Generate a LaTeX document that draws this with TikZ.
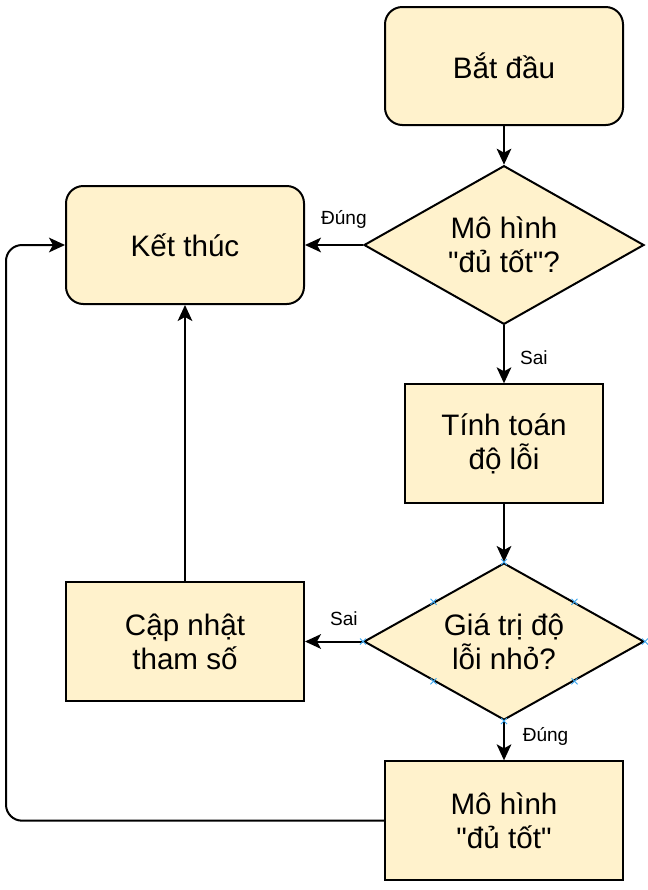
\documentclass[tikz,border=0pt]{standalone}
\usepackage{fontspec}
\newfontfamily\flowfont{Liberation Sans}
\usetikzlibrary{positioning, arrows.meta, shapes.geometric}
\definecolor{boxfill}{HTML}{FFF2CC}
\definecolor{pointblue}{HTML}{3BA7F0}

\begin{document}
\begin{tikzpicture}[
        x=0.75pt, y=-0.75pt,
        every node/.style={font=\flowfont\fontsize{22.2}{25.5}\selectfont},
        terminal/.style={rectangle, rounded corners=13pt, draw=black, fill=boxfill, line width=1.5pt, minimum width=178.5pt, minimum height=88.5pt, align=center},
        process/.style={rectangle, draw=black, fill=boxfill, line width=1.5pt, minimum width=178.5pt, minimum height=89pt, align=center},
        decision/.style={diamond, aspect=1.75, draw=black, fill=boxfill, line width=1.5pt, minimum width=210pt, minimum height=119pt, inner sep=0pt, align=center},
        edge/.style={-{Stealth[length=12pt, width=11pt, inset=3pt]}, line width=1.5pt},
        lbl/.style={font=\flowfont\fontsize{14.3}{16}\selectfont},
        connpt/.style={pointblue, line width=0.75pt}
    ]
        \useasboundingbox (0,0) rectangle (647,890);
        % Start and first check
        \node[terminal] (start) at (504,66) {Bắt đầu};
        \node[decision, below=29pt of start] (good) {Mô hình\\"đủ tốt"?};
        \node[terminal, left=43.5pt of good] (end) {Kết thúc};
        % Error computation and second check
        \node[process, minimum width=149pt, below=43.5pt of good] (error) {Tính toán\\độ lỗi};
        \node[decision, minimum height=117.75pt, below=43.5pt of error] (small) {Giá trị độ\\lỗi nhỏ?};
        \node[process, left=43.5pt of small] (update) {Cập nhật\\tham số};
        \node[process, below=29.5pt of small] (model) {Mô hình\\"đủ tốt"};
        \coordinate[left=44.25pt of end.west] (back);
        % Edges
        \draw[edge] (start) -- (good);
        \draw[edge] (good) -- node[lbl, above=8pt, pos=0.33] {Đúng} (end);
        \draw[edge] (good) -- node[lbl, right=8pt, pos=0.55] {Sai} (error);
        \draw[edge] (error) -- (small);
        \draw[edge] (small) -- node[lbl, above=8pt, pos=0.33] {Sai} (update);
        \draw[edge] (small) -- node[lbl, right=10pt, pos=0.38] {Đúng} (model);
        \draw[edge] (update) -- (end);
        \draw[edge, rounded corners=12pt] (model.west) -| (back) -- (end.west);
        % Connection points on the second check
        \foreach \a in {north, south, east, west, north east, north west, south east, south west}
            \draw[connpt] ([shift={(-3,-3)}]small.\a) -- ++(6,6) ([shift={(-3,3)}]small.\a) -- ++(6,-6);
    \end{tikzpicture}
\end{document}
